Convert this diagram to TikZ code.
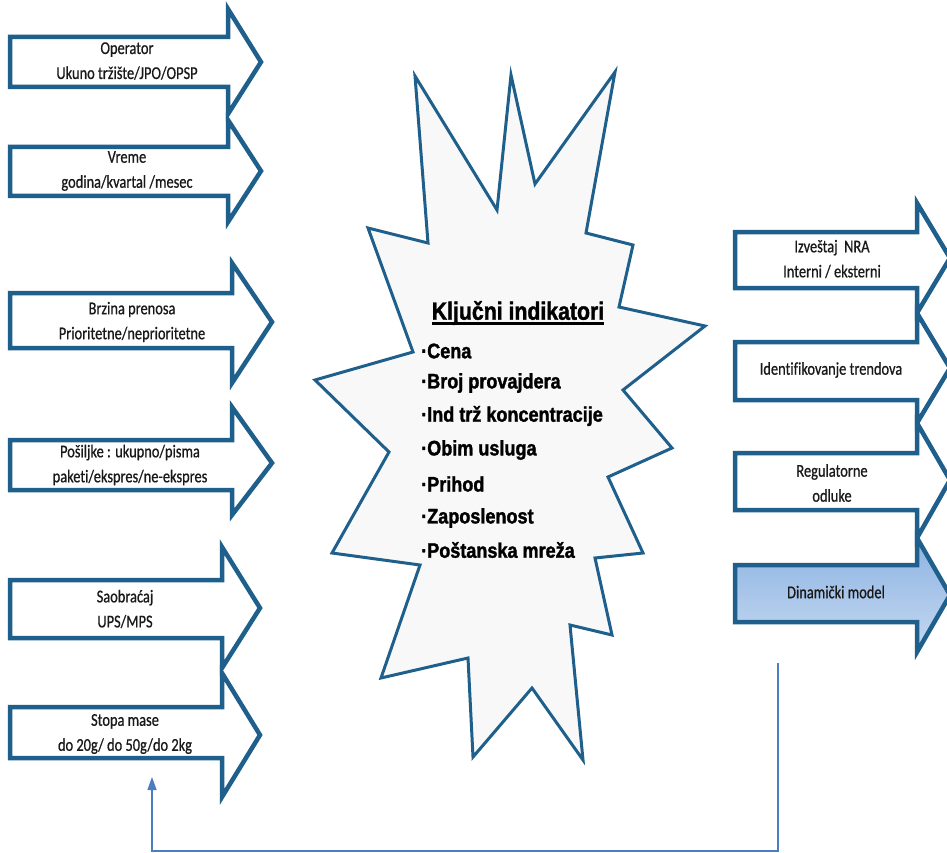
\documentclass[tikz,border=0pt]{standalone}
\usepackage{fontspec}
\setmainfont{Carlito}
\newfontfamily\arrowfont{Carlito}[FakeStretch=0.8, FakeBold=0.7, Ligatures=NoCommon]
\newfontfamily\starfont{Liberation Sans}[FakeStretch=0.85, FakeBold=1.5]
\newfontfamily\itemfont{Liberation Sans}[FakeStretch=0.86, FakeBold=1.5]
\usetikzlibrary{arrows.meta}
\definecolor{edge}{HTML}{1F5F8B}
\definecolor{fbline}{HTML}{4A7EC0}
\definecolor{starfill}{HTML}{F8F8F8}
\definecolor{dmtop}{HTML}{8DB3E2}
\definecolor{dmbot}{HTML}{C6D9F1}
\newcommand\ulthick[1]{\setbox0\hbox{#1}\rlap{\rule[-5pt]{\wd0}{2.6pt}}\box0}
% L,T,B,H,HT,HB,X,Y,style
\newcommand\barrow[9]{\path[#9] (#1,#2) -- (#4,#2) -- (#4,#5) -- (#7,#8) -- (#4,#6) -- (#4,#3) -- (#1,#3) -- cycle;}
\begin{document}
\begin{tikzpicture}[x=1pt,y=-1pt,
  arr/.style={draw=edge,line width=4.5pt,fill=white,line join=miter},
  dyn/.style={draw=edge,line width=4.5pt,top color=dmtop,bottom color=dmbot,line join=miter},
  lbl/.style={font=\arrowfont\fontsize{18}{25}\selectfont,align=center,text=black!90,inner sep=0pt},
  title/.style={font=\starfont\bfseries\fontsize{25}{30}\selectfont,inner sep=0pt},
  item/.style={font=\itemfont\bfseries\fontsize{21}{24}\selectfont,inner sep=0pt,anchor=west},
  fb/.style={draw=fbline,line width=1.3pt,-{Triangle[length=13pt,width=9pt]}}]
\useasboundingbox (0,0) rectangle (947,853);
\clip (0,0) rectangle (947,853);
\fill[white] (0,0) rectangle (947,853);

% left arrows
\barrow{10}{37}{87}{228}{9}{114}{261}{62}{arr}
\barrow{10}{147}{196}{228}{120}{222}{261}{171}{arr}
\barrow{10}{293}{348}{232}{263}{383}{272}{322}{arr}
\barrow{10}{440}{490}{232}{407}{515}{272}{463}{arr}
\barrow{10}{580}{638}{222}{547}{668}{260}{608}{arr}
\barrow{10}{707}{758}{222}{673}{797}{260}{735}{arr}

\node[lbl] (operator) at (127,61) {Operator\\Ukuno tržište/JPO/OPSP};
\node[lbl] (vreme) at (127,171) {Vreme\\godina/kvartal /mesec};
\node[lbl] (brzina) at (132,322) {Brzina prenosa\\Prioritetne/neprioritetne};
\node[lbl] (posiljke) at (130,465) {Pošiljke : ukupno/pisma\\paketi/ekspres/ne-ekspres};
\node[lbl] (saobracaj) at (125,609) {Saobraćaj\\UPS/MPS};
\node[lbl] (stopa) at (125,734) {Stopa mase\\do 20g/ do 50g/do 2kg};

% right arrows
\barrow{735}{232}{288}{917}{203}{313}{950}{258}{arr}
\barrow{735}{342}{400}{917}{313}{423}{950}{368}{arr}
\barrow{735}{453}{510}{917}{423}{538}{950}{480}{arr}
\barrow{735}{565}{622}{917}{538}{652}{950}{595}{dyn}

\node[lbl] (izvestaj) at (832,259) {Izveštaj\ \ NRA\\Interni / eksterni};
\node[lbl] (trend) at (831,370) {Identifikovanje trendova};
\node[lbl] (regul) at (832,483) {Regulatorne\\odluke};
\node[lbl] (dinam) at (836,592) {Dinamički model};

% star
\path[draw=edge,line width=3pt,fill=starfill,line join=miter]
 (415,76) -- (497,210) -- (511,75) -- (535,184) -- (615,72) -- (586,233)
 -- (633,245) -- (619,307) -- (705,326) -- (623,390) -- (672,448) -- (608,477)
 -- (643,553) -- (595,558) -- (612,635) -- (570,625) -- (583,760) -- (532,688)
 -- (473,757) -- (468,658) -- (381,678) -- (420,565) -- (332,553) -- (389,452)
 -- (315,380) -- (413,352) -- (368,228) -- (428,243) -- cycle;

\node[title] (kljuc) at (518,313) {\ulthick{Ključni indikatori}};
\node[item] (i1) at (421,351) {·Cena};
\node[item] (i2) at (421,383) {·Broj provajdera};
\node[item] (i3) at (421,416) {·Ind trž koncentracije};
\node[item] (i4) at (421,450) {·Obim usluga};
\node[item] (i5) at (421,484) {·Prihod};
\node[item] (i6) at (421,518) {·Zaposlenost};
\node[item] (i7) at (421,550) {·Poštanska mreža};

% feedback connector
\coordinate (fbstart) at (778,663);
\coordinate (fbc1) at (778,851);
\coordinate (fbc2) at (152,851);
\coordinate (fbend) at (152,777);
\draw[fb] (fbstart) -- (fbc1) -- (fbc2) -- (fbend);
\end{tikzpicture}
\end{document}
